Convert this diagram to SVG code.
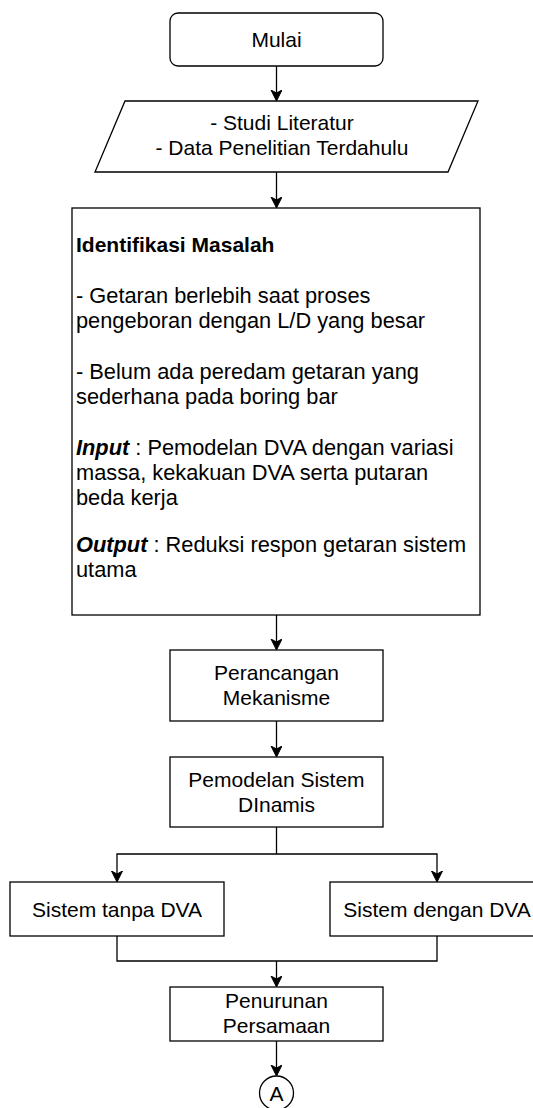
<svg xmlns="http://www.w3.org/2000/svg" width="533" height="1108" viewBox="0 0 533 1108">
<style>
.shape{fill:#fff;stroke:#000;stroke-width:1.3}
.edge{fill:none;stroke:#000;stroke-width:1.3}
text{font-family:"Liberation Sans",Arial,sans-serif;font-size:21px;fill:#000}
.c{text-anchor:middle}
.b{font-weight:bold}
.bi{font-weight:bold;font-style:italic}
.w{font-size:21.8px}
</style>
<defs>
<marker id="arr" markerWidth="12" markerHeight="12" refX="10" refY="5.5" orient="auto" markerUnits="userSpaceOnUse">
<path d="M0,0 L11,5.5 L0,11 L3,5.5 z" fill="#000" stroke="#000" stroke-width="1"/>
</marker>
</defs>
<rect width="533" height="1108" fill="#fff"/>
<g id="connectors">
<path class="edge" d="M276.5,66 V100" marker-end="url(#arr)"/>
<path class="edge" d="M276.5,172 V207" marker-end="url(#arr)"/>
<path class="edge" d="M276.5,615 V649" marker-end="url(#arr)"/>
<path class="edge" d="M276.5,721 V756" marker-end="url(#arr)"/>
<path class="edge" d="M276.5,827 V854 H117 V881" marker-end="url(#arr)"/>
<path class="edge" d="M276.5,854 H437 V881" marker-end="url(#arr)"/>
<path class="edge" d="M117,936 V961 H437 V936"/>
<path class="edge" d="M276.5,961 V986" marker-end="url(#arr)"/>
<path class="edge" d="M276.5,1041 V1075" marker-end="url(#arr)"/>
</g>
<g id="mulai">
<rect class="shape" x="170" y="13" width="213" height="53" rx="8" ry="8"/>
<text class="c" x="276.5" y="47">Mulai</text>
</g>
<g id="studi">
<path class="shape" d="M125,101 H478 L448,172 H95 Z"/>
<text class="c" x="282" y="130">- Studi Literatur</text>
<text class="c" x="282" y="155">- Data Penelitian Terdahulu</text>
</g>
<g id="identifikasi">
<rect class="shape" x="72" y="208" width="408" height="407"/>
<text x="76" y="252" class="b">Identifikasi Masalah</text>
<text x="76" y="303" class="w">- Getaran berlebih saat proses</text>
<text x="76" y="328" class="w">pengeboran dengan L/D yang besar</text>
<text x="76" y="379" class="w">- Belum ada peredam getaran yang</text>
<text x="76" y="404" class="w">sederhana pada boring bar</text>
<text x="76" y="455" class="w"><tspan class="bi">Input</tspan> : Pemodelan DVA dengan variasi</text>
<text x="76" y="480" class="w">massa, kekakuan DVA serta putaran</text>
<text x="76" y="505" class="w">beda kerja</text>
<text x="76" y="552" class="w"><tspan class="bi">Output</tspan> : Reduksi respon getaran sistem</text>
<text x="76" y="577" class="w">utama</text>
</g>
<g id="perancangan">
<rect class="shape" x="170" y="650" width="213" height="71"/>
<text class="c" x="276.5" y="680">Perancangan</text>
<text class="c" x="276.5" y="705">Mekanisme</text>
</g>
<g id="pemodelan">
<rect class="shape" x="170" y="757" width="213" height="70"/>
<text class="c" x="276.5" y="787">Pemodelan Sistem</text>
<text class="c" x="276.5" y="812">DInamis</text>
</g>
<g id="tanpa">
<rect class="shape" x="10" y="882" width="214" height="54"/>
<text class="c" x="117" y="917">Sistem tanpa DVA</text>
</g>
<g id="dengan">
<rect class="shape" x="330" y="882" width="214" height="54"/>
<text class="c" x="437" y="917">Sistem dengan DVA</text>
</g>
<g id="penurunan">
<rect class="shape" x="170" y="987" width="213" height="54"/>
<text class="c" x="276.5" y="1008">Penurunan</text>
<text class="c" x="276.5" y="1033">Persamaan</text>
</g>
<g id="a">
<circle class="shape" cx="276.5" cy="1093" r="17"/>
<text class="c" x="276.5" y="1101">A</text>
</g>
</svg>
